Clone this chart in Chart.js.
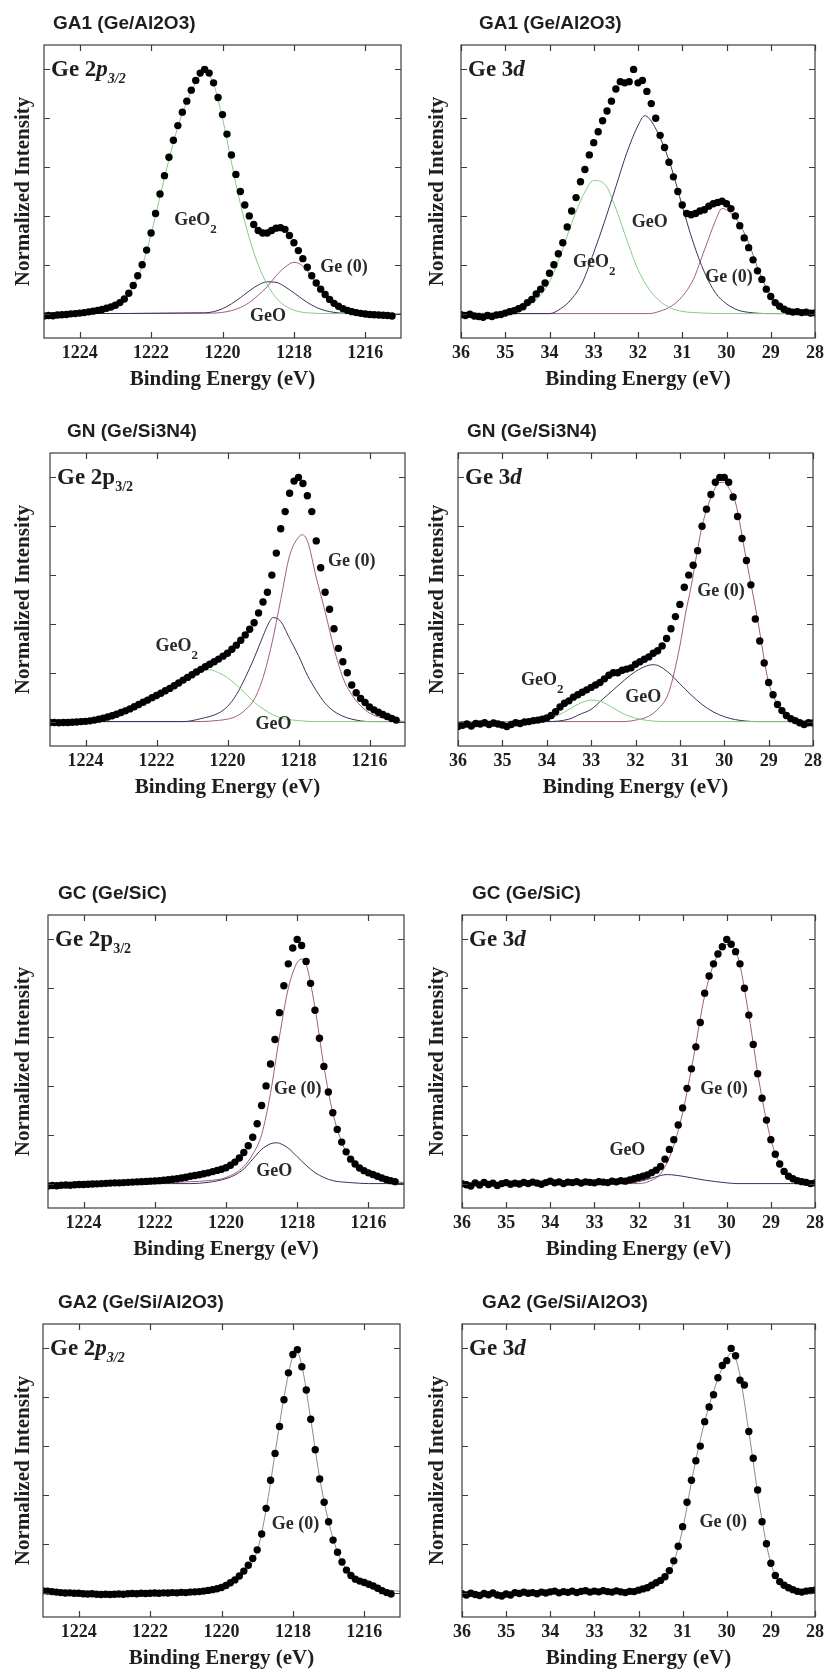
<!DOCTYPE html>
<html>
<head>
<meta charset="utf-8">
<title>Ge 2p3/2 and Ge 3d XPS spectra</title>
<script src="https://cdn.jsdelivr.net/npm/chart.js@4.4.1/dist/chart.umd.min.js"></script>
<style>
  body { margin: 0; background: #fff; width: 829px; height: 1674px; position: relative; overflow: hidden; }
  canvas { position: absolute; }
</style>
</head>
<body>
<canvas id="c0" width="415" height="394"></canvas>
<canvas id="c1" width="415" height="394"></canvas>
<canvas id="c2" width="415" height="394"></canvas>
<canvas id="c3" width="415" height="394"></canvas>
<canvas id="c4" width="415" height="394"></canvas>
<canvas id="c5" width="415" height="394"></canvas>
<canvas id="c6" width="415" height="394"></canvas>
<canvas id="c7" width="415" height="394"></canvas>
<script>
// ---------------------------------------------------------------------------
// Data (normalized intensity vs binding energy in eV)
// ---------------------------------------------------------------------------

// sampling grids of the measured spectra
const ge2pStart = 1225, ge2pStep = 0.125;
const ge3dStart = 36, ge3dStep = 0.1;

// tick labels
const ge2pTicks = [1224, 1222, 1220, 1218, 1216];
const ge3dTicks = [36, 35, 34, 33, 32, 31, 30, 29, 28];
const intensityTicks = [0, 0.2, 0.4, 0.6, 0.8, 1.0];

const panelTitles = ['GA1 (Ge/Al2O3)', 'GA1 (Ge/Al2O3)', 'GN (Ge/Si3N4)', 'GN (Ge/Si3N4)',
                     'GC (Ge/SiC)', 'GC (Ge/SiC)', 'GA2 (Ge/Si/Al2O3)', 'GA2 (Ge/Si/Al2O3)'];

// measured points, Ge 2p3/2 (1225 -> 1215.25 eV)
const ga1Ge2p = [
  -0.010, -0.008, -0.009, -0.006, -0.005, -0.004, -0.001, 0.000, 0.002, 0.004,
  0.007, 0.010, 0.013, 0.017, 0.022, 0.027, 0.034, 0.045, 0.060, 0.083,
  0.115, 0.155, 0.200, 0.260, 0.330, 0.410, 0.490, 0.565, 0.640, 0.710,
  0.770, 0.825, 0.870, 0.915, 0.955, 0.985, 1.000, 0.985, 0.945, 0.885,
  0.815, 0.735, 0.650, 0.570, 0.500, 0.445, 0.400, 0.365, 0.340, 0.330,
  0.330, 0.340, 0.350, 0.352, 0.345, 0.320, 0.290, 0.258, 0.225, 0.190,
  0.155, 0.125, 0.100, 0.078, 0.058, 0.042, 0.030, 0.020, 0.013, 0.008,
  0.004, 0.001, -0.002, -0.004, -0.005, -0.006, -0.007, -0.008, -0.010
];
const gnGe2p = [
  -0.004, -0.004, -0.005, -0.004, -0.004, -0.003, -0.002, 0.000, 0.001, 0.003,
  0.006, 0.010, 0.014, 0.019, 0.024, 0.030, 0.037, 0.044, 0.052, 0.061,
  0.070, 0.079, 0.088, 0.098, 0.107, 0.116, 0.126, 0.136, 0.147, 0.158,
  0.170, 0.181, 0.192, 0.203, 0.214, 0.225, 0.235, 0.245, 0.256, 0.268,
  0.280, 0.296, 0.313, 0.333, 0.355, 0.378, 0.405, 0.445, 0.490, 0.530,
  0.600, 0.690, 0.790, 0.860, 0.935, 0.985, 1.000, 0.975, 0.925, 0.860,
  0.740, 0.630, 0.530, 0.460, 0.380, 0.300, 0.245, 0.200, 0.150, 0.118,
  0.095, 0.078, 0.060, 0.048, 0.038, 0.029, 0.021, 0.013, 0.006
];
const gcGe2p = [
  -0.010, -0.008, -0.009, -0.007, -0.006, -0.007, -0.005, -0.004, -0.004, -0.003,
  -0.002, -0.001, 0.000, 0.001, 0.002, 0.003, 0.003, 0.004, 0.005, 0.006,
  0.007, 0.008, 0.009, 0.010, 0.011, 0.012, 0.014, 0.016, 0.018, 0.020,
  0.023, 0.026, 0.030, 0.033, 0.036, 0.040, 0.044, 0.049, 0.054, 0.059,
  0.065, 0.075, 0.088, 0.105, 0.127, 0.155, 0.190, 0.245, 0.320, 0.400,
  0.490, 0.590, 0.700, 0.810, 0.900, 0.965, 1.000, 0.975, 0.910, 0.820,
  0.710, 0.595, 0.480, 0.375, 0.290, 0.222, 0.170, 0.130, 0.100, 0.080,
  0.064, 0.053, 0.044, 0.037, 0.030, 0.023, 0.017, 0.012, 0.008
];
const ga2Ge2p = [
  0.007, 0.006, 0.004, 0.002, 0.000, -0.002, -0.001, -0.003, -0.003, -0.005,
  -0.006, -0.005, -0.007, -0.008, -0.007, -0.008, -0.007, -0.006, -0.007, -0.005,
  -0.004, -0.005, -0.003, -0.004, -0.003, -0.002, -0.003, -0.001, -0.002, 0.000,
  -0.001, 0.001, 0.000, 0.002, 0.003, 0.004, 0.006, 0.009, 0.012, 0.016,
  0.021, 0.029, 0.040, 0.052, 0.068, 0.088, 0.112, 0.140, 0.175, 0.240,
  0.345, 0.460, 0.570, 0.680, 0.790, 0.900, 0.975, 0.995, 0.925, 0.830,
  0.710, 0.585, 0.465, 0.370, 0.290, 0.215, 0.165, 0.125, 0.092, 0.070,
  0.055, 0.047, 0.041, 0.034, 0.027, 0.018, 0.008, 0.000, -0.006
];

// measured points, Ge 3d (36 -> 28 eV)
const ga1Ge3d = [
  -0.005, -0.008, -0.003, -0.010, -0.012, -0.015, -0.008, -0.012, -0.006, -0.004,
  0.002, 0.008, 0.012, 0.020, 0.028, 0.045, 0.058, 0.080, 0.100, 0.125,
  0.165, 0.200, 0.245, 0.290, 0.355, 0.420, 0.475, 0.540, 0.590, 0.650,
  0.700, 0.745, 0.790, 0.830, 0.870, 0.920, 0.950, 0.945, 0.950, 1.000,
  0.945, 0.955, 0.910, 0.860, 0.800, 0.730, 0.680, 0.620, 0.560, 0.500,
  0.445, 0.410, 0.405, 0.410, 0.420, 0.425, 0.440, 0.450, 0.455, 0.460,
  0.450, 0.430, 0.400, 0.360, 0.310, 0.270, 0.220, 0.175, 0.140, 0.100,
  0.070, 0.045, 0.030, 0.018, 0.010, 0.006, 0.008, 0.004, 0.006, 0.002,
  0.003
];
const gnGe3d = [
  -0.020, -0.015, -0.010, -0.018, -0.008, -0.010, -0.005, -0.012, -0.006, -0.010,
  -0.014, -0.020, -0.012, -0.005, -0.008, -0.002, 0.000, 0.004, 0.006, 0.010,
  0.015, 0.025, 0.040, 0.060, 0.075, 0.085, 0.100, 0.110, 0.120, 0.130,
  0.140, 0.150, 0.160, 0.175, 0.190, 0.200, 0.200, 0.210, 0.215, 0.220,
  0.235, 0.245, 0.255, 0.265, 0.280, 0.290, 0.310, 0.340, 0.380, 0.430,
  0.480, 0.550, 0.600, 0.640, 0.700, 0.800, 0.870, 0.930, 0.980, 1.000,
  1.000, 0.980, 0.920, 0.840, 0.750, 0.660, 0.560, 0.420, 0.330, 0.240,
  0.160, 0.110, 0.070, 0.045, 0.025, 0.012, 0.004, -0.005, -0.012, -0.005,
  -0.006
];
const gcGe3d = [
  0.000, -0.005, -0.010, 0.003, -0.006, 0.005, -0.004, 0.002, -0.008, 0.000,
  0.004, -0.003, 0.002, -0.002, 0.005, 0.000, 0.006, 0.002, -0.003, 0.004,
  0.010, 0.003, 0.007, 0.000, 0.006, 0.004, 0.008, 0.002, 0.007, 0.005,
  0.003, 0.008, 0.006, 0.004, 0.010, 0.007, 0.012, 0.010, 0.015, 0.020,
  0.025, 0.030, 0.035, 0.045, 0.055, 0.070, 0.100, 0.140, 0.180, 0.240,
  0.310, 0.390, 0.470, 0.560, 0.660, 0.780, 0.850, 0.900, 0.940, 0.970,
  1.000, 0.980, 0.950, 0.900, 0.800, 0.690, 0.570, 0.450, 0.350, 0.260,
  0.180, 0.120, 0.080, 0.050, 0.030, 0.020, 0.012, 0.008, 0.005, 0.000,
  0.003
];
const ga2Ge3d = [
  -0.005, -0.010, -0.003, -0.008, -0.012, -0.004, -0.009, -0.002, -0.010, -0.014,
  -0.006, -0.010, 0.000, -0.004, 0.002, -0.003, 0.000, -0.005, 0.002, -0.002,
  0.003, 0.006, -0.001, 0.004, 0.001, 0.006, 0.000, 0.005, 0.008, 0.002,
  0.006, 0.003, 0.008, 0.004, 0.002, 0.007, 0.003, 0.000, 0.005, 0.004,
  0.010, 0.015, 0.020, 0.030, 0.040, 0.050, 0.065, 0.090, 0.130, 0.190,
  0.270, 0.370, 0.460, 0.540, 0.600, 0.700, 0.760, 0.810, 0.880, 0.930,
  0.950, 1.000, 0.970, 0.870, 0.850, 0.660, 0.550, 0.420, 0.290, 0.200,
  0.120, 0.070, 0.045, 0.030, 0.020, 0.012, 0.005, 0.002, 0.006, 0.008,
  0.010
];

// fitted components: energies (E) and intensities (I)
const ga1Ge2pGeO2E = [1225, 1224, 1223.5, 1223, 1222.75, 1222.5, 1222.25, 1222, 1221.75, 1221.5, 1221.25, 1221, 1220.75, 1220.5, 1220.25, 1220, 1219.75, 1219.5, 1219.25, 1219, 1218.75, 1218.5, 1218.25, 1218, 1217.75, 1217.5, 1217, 1215];
const ga1Ge2pGeO2I = [0, 0.003, 0.012, 0.034, 0.06, 0.112, 0.195, 0.325, 0.48, 0.63, 0.765, 0.865, 0.945, 0.99, 0.94, 0.8, 0.62, 0.45, 0.31, 0.2, 0.12, 0.065, 0.032, 0.014, 0.005, 0.002, 0, 0];
const ga1Ge2pGeOE = [1225, 1220.5, 1220.25, 1220, 1219.75, 1219.5, 1219.25, 1219, 1218.75, 1218.5, 1218.25, 1218, 1217.75, 1217.5, 1217.25, 1217, 1216.75, 1216.5, 1215];
const ga1Ge2pGeOI = [0, 0.003, 0.008, 0.02, 0.04, 0.065, 0.093, 0.117, 0.13, 0.128, 0.11, 0.085, 0.058, 0.035, 0.018, 0.008, 0.003, 0, 0];
const ga1Ge2pGe0E = [1225, 1220.25, 1220, 1219.75, 1219.5, 1219.25, 1219, 1218.75, 1218.5, 1218.25, 1218, 1217.75, 1217.5, 1217.25, 1217, 1216.75, 1216.5, 1216.25, 1216, 1215];
const ga1Ge2pGe0I = [0, 0.002, 0.005, 0.012, 0.025, 0.045, 0.075, 0.11, 0.155, 0.19, 0.21, 0.195, 0.15, 0.1, 0.058, 0.03, 0.013, 0.005, 0.002, 0];

const ga1Ge3dGeO2E = [36, 34.75, 34.5, 34.25, 34, 33.75, 33.5, 33.25, 33, 32.75, 32.5, 32.25, 32, 31.75, 31.5, 31.25, 31, 30.5, 30, 28];
const ga1Ge3dGeO2I = [0, 0.01, 0.03, 0.065, 0.13, 0.24, 0.37, 0.48, 0.545, 0.53, 0.43, 0.3, 0.18, 0.1, 0.05, 0.022, 0.009, 0.002, 0, 0];
const ga1Ge3dGeOE = [36, 34, 33.75, 33.5, 33.25, 33, 32.75, 32.5, 32.25, 32, 31.85, 31.75, 31.5, 31.25, 31, 30.75, 30.5, 30.25, 30, 29.75, 29.5, 29, 28];
const ga1Ge3dGeOI = [0, 0, 0.02, 0.06, 0.13, 0.25, 0.38, 0.52, 0.66, 0.77, 0.81, 0.8, 0.72, 0.6, 0.44, 0.29, 0.17, 0.085, 0.04, 0.015, 0.005, 0, 0];
const ga1Ge3dGe0E = [36, 31.75, 31.5, 31.25, 31, 30.75, 30.5, 30.25, 30.1, 30, 29.75, 29.5, 29.25, 29, 28.75, 28.5, 28.25, 28];
const ga1Ge3dGe0I = [0, 0, 0.01, 0.03, 0.07, 0.14, 0.26, 0.38, 0.43, 0.425, 0.38, 0.29, 0.165, 0.075, 0.028, 0.009, 0.003, 0];

const gnGe2pGeO2E = [1225, 1224, 1223.5, 1223, 1222.5, 1222, 1221.5, 1221, 1220.75, 1220.5, 1220.25, 1220, 1219.75, 1219.5, 1219.25, 1219, 1218.75, 1218.5, 1218, 1217.5, 1215];
const gnGe2pGeO2I = [0, 0.001, 0.014, 0.037, 0.07, 0.107, 0.147, 0.19, 0.205, 0.212, 0.2, 0.18, 0.15, 0.115, 0.08, 0.052, 0.03, 0.015, 0.004, 0, 0];
const gnGe2pGeOE = [1225, 1221.25, 1220.75, 1220.25, 1220, 1219.75, 1219.5, 1219.25, 1219, 1218.85, 1218.72, 1218.5, 1218.25, 1218, 1217.75, 1217.5, 1217.25, 1217, 1216.75, 1216.5, 1216, 1215];
const gnGe2pGeOI = [0, 0, 0.012, 0.035, 0.062, 0.11, 0.18, 0.26, 0.35, 0.4, 0.426, 0.41, 0.34, 0.27, 0.19, 0.127, 0.075, 0.042, 0.022, 0.01, 0, 0];
const gnGe2pGe0E = [1225, 1220.75, 1220.25, 1220, 1219.75, 1219.5, 1219.25, 1219, 1218.75, 1218.5, 1218.25, 1218, 1217.9, 1217.75, 1217.5, 1217.25, 1217, 1216.75, 1216.5, 1216.25, 1216, 1215.5, 1215];
const gnGe2pGe0I = [0, 0, 0.005, 0.01, 0.022, 0.048, 0.09, 0.18, 0.32, 0.5, 0.68, 0.755, 0.765, 0.74, 0.59, 0.45, 0.3, 0.18, 0.11, 0.065, 0.035, 0.01, 0];

const gnGe3dGeO2E = [36, 34.5, 34, 33.75, 33.5, 33.25, 33, 32.75, 32.5, 32.25, 32, 31.75, 31.5, 31, 28];
const gnGe3dGeO2I = [0, 0, 0.01, 0.025, 0.05, 0.075, 0.088, 0.08, 0.055, 0.03, 0.014, 0.005, 0.001, 0, 0];
const gnGe3dGeOE = [36, 34, 33.5, 33.25, 33, 32.75, 32.5, 32.25, 32, 31.75, 31.6, 31.5, 31.25, 31, 30.75, 30.5, 30.25, 30, 29.75, 29.5, 29.25, 28];
const gnGe3dGeOI = [0, 0, 0.01, 0.03, 0.05, 0.09, 0.13, 0.17, 0.205, 0.228, 0.233, 0.23, 0.2, 0.155, 0.11, 0.07, 0.04, 0.02, 0.008, 0.002, 0, 0];
const gnGe3dGe0E = [36, 32.25, 32, 31.75, 31.5, 31.25, 31, 30.875, 30.75, 30.625, 30.5, 30.375, 30.25, 30.1, 30, 29.875, 29.75, 29.5, 29.25, 29, 28.75, 28.5, 28.25, 28];
const gnGe3dGe0I = [0, 0, 0.006, 0.018, 0.05, 0.12, 0.31, 0.44, 0.55, 0.68, 0.8, 0.88, 0.94, 0.98, 0.98, 0.95, 0.9, 0.66, 0.42, 0.16, 0.06, 0.015, 0.003, 0];

const gcGe2pGeOE = [1225, 1221, 1220.5, 1220, 1219.75, 1219.5, 1219.25, 1219, 1218.75, 1218.6, 1218.5, 1218.25, 1218, 1217.75, 1217.5, 1217.25, 1217, 1216.5, 1216, 1215];
const gcGe2pGeOI = [0, 0, 0.005, 0.02, 0.035, 0.06, 0.1, 0.14, 0.163, 0.167, 0.165, 0.145, 0.11, 0.075, 0.045, 0.025, 0.012, 0.004, 0, 0];
const gcGe2pGe0E = [1225, 1222, 1221, 1220.5, 1220, 1219.5, 1219.25, 1219, 1218.75, 1218.5, 1218.25, 1218, 1217.85, 1217.75, 1217.5, 1217.25, 1217, 1216.75, 1216.5, 1216.25, 1216, 1215.5, 1215];
const gcGe2pGe0I = [0, 0.003, 0.008, 0.012, 0.025, 0.07, 0.12, 0.2, 0.37, 0.6, 0.8, 0.905, 0.92, 0.9, 0.72, 0.48, 0.29, 0.17, 0.1, 0.065, 0.044, 0.016, 0.003];

const gcGe3dGeOE = [36, 32.5, 32, 31.75, 31.5, 31.35, 31.25, 31, 30.75, 30.5, 30.25, 30, 29.75, 28];
const gcGe3dGeOI = [0, 0, 0.008, 0.02, 0.033, 0.037, 0.036, 0.03, 0.022, 0.014, 0.008, 0.003, 0, 0];
const gcGe3dGe0E = [36, 32, 31.75, 31.5, 31.25, 31, 30.75, 30.5, 30.25, 30, 29.75, 29.5, 29.25, 29, 28.75, 28.5, 28.25, 28];
const gcGe3dGe0I = [0, 0, 0.01, 0.04, 0.13, 0.29, 0.52, 0.77, 0.92, 0.98, 0.93, 0.69, 0.4, 0.18, 0.065, 0.02, 0.005, 0];

const ga2Ge2pGe0E = [1225, 1220.5, 1220, 1219.5, 1219, 1218.75, 1218.5, 1218.25, 1218, 1217.9, 1217.75, 1217.5, 1217.25, 1217, 1216.75, 1216.5, 1216.25, 1216, 1215.5, 1215];
const ga2Ge2pGe0I = [0, 0.005, 0.02, 0.065, 0.17, 0.34, 0.57, 0.8, 0.97, 0.99, 0.93, 0.71, 0.47, 0.29, 0.165, 0.095, 0.058, 0.038, 0.015, 0.005];

const ga2Ge3dGe0E = [36, 32, 31.5, 31.25, 31, 30.75, 30.5, 30.25, 30, 29.9, 29.75, 29.5, 29.25, 29, 28.75, 28.5, 28];
const ga2Ge3dGe0I = [0, 0.005, 0.045, 0.1, 0.26, 0.5, 0.7, 0.85, 0.96, 0.98, 0.93, 0.66, 0.35, 0.12, 0.035, 0.01, 0.005];

// ---------------------------------------------------------------------------
// Styles
// ---------------------------------------------------------------------------
const SERIF = '"Liberation Serif", "Times New Roman", serif';
const SANS = '"Liberation Sans", Arial, sans-serif';
const TEXT_COLOR = '#1e1e1e';
const colGeO2 = '#83cd83';
const colGeO = '#3b3158';
const colGe0 = '#a45c7c';
const colSingle = '#8a8a8a';

const LABEL_FONT = 'bold 18px ' + SERIF;
const SUB_FONT = 'bold 13px ' + SERIF;

function spectrumPoints(start, step, values) {
    return values.map((v, i) => ({ x: Math.round((start - i * step) * 1000) / 1000, y: v }));
}

function curvePoints(energies, intensities) {
    return energies.map((e, i) => ({ x: e, y: intensities[i] }));
}

// peak label helpers (energy / intensity is where the text's left baseline sits)
function geo2Label(e, v) {
    return { e, v, parts: [{ text: 'GeO', font: LABEL_FONT }, { text: '2', font: SUB_FONT, dy: 8 }] };
}
function plainLabel(text, e, v) {
    return { e, v, parts: [{ text, font: LABEL_FONT }] };
}

function coreLabel(style) {
    const big = 'bold 23px ' + SERIF, bigIt = 'bold italic 23px ' + SERIF;
    if (style === '2p-italic') {
        return [{ text: 'Ge 2', font: big }, { text: 'p', font: bigIt }, { text: '3/2', font: 'bold italic 14px ' + SERIF, dy: 7 }];
    }
    if (style === '2p') {
        return [{ text: 'Ge 2p', font: big }, { text: '3/2', font: 'bold 14px ' + SERIF, dy: 7 }];
    }
    return [{ text: 'Ge 3', font: big }, { text: 'd', font: bigIt }];
}

// ---------------------------------------------------------------------------
// Panel definitions
// ---------------------------------------------------------------------------
const panels = [
    { canvas: 'c0', left: 0, top: 0, frameL: 44, frameR: 401, titleDx: 9, title: panelTitles[0], kind: '2p', core: '2p-italic',
      dots: ga1Ge2p,
      comps: [[ga1Ge2pGeO2E, ga1Ge2pGeO2I, colGeO2], [ga1Ge2pGeOE, ga1Ge2pGeOI, colGeO], [ga1Ge2pGe0E, ga1Ge2pGe0I, colGe0]],
      labels: [geo2Label(1221.35, 0.362), plainLabel('Ge (0)', 1217.26, 0.171), plainLabel('GeO', 1219.23, -0.03)] },
    { canvas: 'c1', left: 414, top: 0, frameL: 461, frameR: 816, titleDx: 18, title: panelTitles[1], kind: '3d', core: '3d',
      dots: ga1Ge3d,
      comps: [[ga1Ge3dGeO2E, ga1Ge3dGeO2I, colGeO2], [ga1Ge3dGeOE, ga1Ge3dGeOI, colGeO], [ga1Ge3dGe0E, ga1Ge3dGe0I, colGe0]],
      labels: [geo2Label(33.47, 0.191), plainLabel('GeO', 32.14, 0.355), plainLabel('Ge (0)', 30.48, 0.13)] },
    { canvas: 'c2', left: 0, top: 408, frameL: 50, frameR: 405, titleDx: 17, title: panelTitles[2], kind: '2p', core: '2p',
      dots: gnGe2p,
      comps: [[gnGe2pGeO2E, gnGe2pGeO2I, colGeO2], [gnGe2pGeOE, gnGe2pGeOI, colGeO], [gnGe2pGe0E, gnGe2pGe0I, colGe0]],
      labels: [geo2Label(1222.03, 0.289), plainLabel('Ge (0)', 1217.17, 0.636), plainLabel('GeO', 1219.21, -0.032)] },
    { canvas: 'c3', left: 414, top: 408, frameL: 458, frameR: 813, titleDx: 9, title: panelTitles[3], kind: '3d', core: '3d',
      dots: gnGe3d,
      comps: [[gnGe3dGeO2E, gnGe3dGeO2I, colGeO2], [gnGe3dGeOE, gnGe3dGeOI, colGeO], [gnGe3dGe0E, gnGe3dGe0I, colGe0]],
      labels: [geo2Label(34.58, 0.151), plainLabel('GeO', 32.23, 0.082), plainLabel('Ge (0)', 30.61, 0.514)] },
    { canvas: 'c4', left: 0, top: 870, frameL: 48, frameR: 404, titleDx: 10, title: panelTitles[4], kind: '2p', core: '2p',
      dots: gcGe2p,
      comps: [[gcGe2pGeOE, gcGe2pGeOI, colGeO], [gcGe2pGe0E, gcGe2pGe0I, colGe0]],
      labels: [plainLabel('Ge (0)', 1218.65, 0.365), plainLabel('GeO', 1219.15, 0.03)] },
    { canvas: 'c5', left: 414, top: 870, frameL: 462, frameR: 817, titleDx: 10, title: panelTitles[5], kind: '3d', core: '3d',
      dots: gcGe3d,
      comps: [[gcGe3dGeOE, gcGe3dGeOI, colGeO], [gcGe3dGe0E, gcGe3dGe0I, colGe0]],
      labels: [plainLabel('GeO', 32.66, 0.119), plainLabel('Ge (0)', 30.6, 0.365)] },
    { canvas: 'c6', left: 0, top: 1279, frameL: 43, frameR: 400, titleDx: 15, title: panelTitles[6], kind: '2p', core: '2p-italic',
      dots: ga2Ge2p,
      comps: [[ga2Ge2pGe0E, ga2Ge2pGe0I, colSingle]],
      labels: [plainLabel('Ge (0)', 1218.59, 0.26)] },
    { canvas: 'c7', left: 414, top: 1279, frameL: 462, frameR: 819, titleDx: 20, title: panelTitles[7], kind: '3d', core: '3d',
      dots: ga2Ge3d,
      comps: [[ga2Ge3dGe0E, ga2Ge3dGe0I, colSingle]],
      labels: [plainLabel('Ge (0)', 30.62, 0.269)] }
];

// ---------------------------------------------------------------------------
// Drawing helpers
// ---------------------------------------------------------------------------
function drawRich(ctx, x, y, parts) {
    parts.forEach(p => {
        ctx.font = p.font;
        ctx.fillText(p.text, x, y + (p.dy || 0));
        x += ctx.measureText(p.text).width;
    });
}

// frame, inward ticks and in-plot text
function decorPlugin(panel, xTicks) {
    return {
        id: 'xpsDecor',
        afterDatasetsDraw(chart) {
            const { ctx, chartArea: a, scales } = chart;
            ctx.save();
            ctx.strokeStyle = '#3c3c3c';
            ctx.lineWidth = 1.2;
            ctx.strokeRect(a.left, a.top, a.right - a.left, a.bottom - a.top);
            ctx.beginPath();
            xTicks.forEach(v => {
                const px = Math.round(scales.x.getPixelForValue(v)) + 0.5;
                ctx.moveTo(px, a.top); ctx.lineTo(px, a.top + 6);
                ctx.moveTo(px, a.bottom); ctx.lineTo(px, a.bottom - 6);
            });
            intensityTicks.forEach(v => {
                const py = Math.round(scales.y.getPixelForValue(v)) + 0.5;
                ctx.moveTo(a.left, py); ctx.lineTo(a.left + 6, py);
                ctx.moveTo(a.right, py); ctx.lineTo(a.right - 6, py);
            });
            ctx.stroke();
            ctx.restore();
        },
        afterDraw(chart) {
            const { ctx, chartArea: a, scales } = chart;
            ctx.save();
            ctx.fillStyle = TEXT_COLOR;
            ctx.textAlign = 'left';

            // panel title
            ctx.textBaseline = 'middle';
            ctx.font = 'bold 19px ' + SANS;
            ctx.fillText(panel.title, a.left + panel.titleDx, a.top - 21);

            // core level label
            ctx.textBaseline = 'alphabetic';
            drawRich(ctx, a.left + 7, a.top + 31, coreLabel(panel.core));

            // component labels
            ctx.fillStyle = '#2a2a2a';
            panel.labels.forEach(l => {
                drawRich(ctx, scales.x.getPixelForValue(l.e), scales.y.getPixelForValue(l.v), l.parts);
            });
            ctx.restore();
        }
    };
}

// ---------------------------------------------------------------------------
// Build charts
// ---------------------------------------------------------------------------
function createPanel(panel) {
    const canvas = document.getElementById(panel.canvas);
    canvas.style.left = panel.left + 'px';
    canvas.style.top = panel.top + 'px';

    const is2p = panel.kind === '2p';
    const xTicks = is2p ? ge2pTicks : ge3dTicks;
    const dotData = is2p ? spectrumPoints(ge2pStart, ge2pStep, panel.dots)
                         : spectrumPoints(ge3dStart, ge3dStep, panel.dots);

    const datasets = [{
        label: 'measured',
        data: dotData,
        showLine: false,
        pointRadius: 3.7,
        pointBackgroundColor: '#000',
        pointBorderWidth: 0,
        borderColor: '#000'
    }];
    panel.comps.forEach(c => {
        datasets.push({
            label: 'component',
            data: curvePoints(c[0], c[1]),
            showLine: true,
            pointRadius: 0,
            borderWidth: 1,
            borderColor: c[2],
            cubicInterpolationMode: 'monotone',
            fill: false
        });
    });

    const axisWidth = panel.frameL - panel.left;
    const padRight = panel.left + canvas.width - panel.frameR;

    new Chart(canvas, {
        type: 'scatter',
        data: { datasets: datasets },
        options: {
            responsive: false,
            animation: false,
            devicePixelRatio: 1,
            events: [],
            layout: { padding: { top: 45, right: padRight, left: 0, bottom: 0 } },
            plugins: {
                legend: { display: false },
                tooltip: { enabled: false },
                title: { display: false }
            },
            scales: {
                x: {
                    type: 'linear',
                    reverse: true,
                    min: is2p ? 1215 : 28,
                    max: is2p ? 1225 : 36,
                    afterFit: s => { s.height = 56; },
                    afterBuildTicks: s => { s.ticks = xTicks.map(v => ({ value: v })); },
                    ticks: {
                        font: { family: SERIF, size: 18, weight: 'bold' },
                        color: TEXT_COLOR,
                        padding: 5,
                        maxRotation: 0,
                        autoSkip: false,
                        callback: v => String(v)
                    },
                    grid: { display: false, drawTicks: false },
                    border: { display: false },
                    title: {
                        display: true,
                        text: 'Binding Energy (eV)',
                        font: { family: SERIF, size: 21, weight: 'bold' },
                        color: TEXT_COLOR,
                        padding: { top: 0, bottom: 2 }
                    }
                },
                y: {
                    type: 'linear',
                    min: -0.1,
                    max: 1.1,
                    afterFit: s => { s.width = axisWidth; },
                    ticks: { display: false },
                    grid: { display: false, drawTicks: false },
                    border: { display: false },
                    title: {
                        display: true,
                        text: 'Normalized Intensity',
                        font: { family: SERIF, size: 21, weight: 'bold' },
                        color: TEXT_COLOR,
                        padding: { top: 11, bottom: 0 }
                    }
                }
            }
        },
        plugins: [decorPlugin(panel, xTicks)]
    });
}

panels.forEach(createPanel);
</script>
</body>
</html>
